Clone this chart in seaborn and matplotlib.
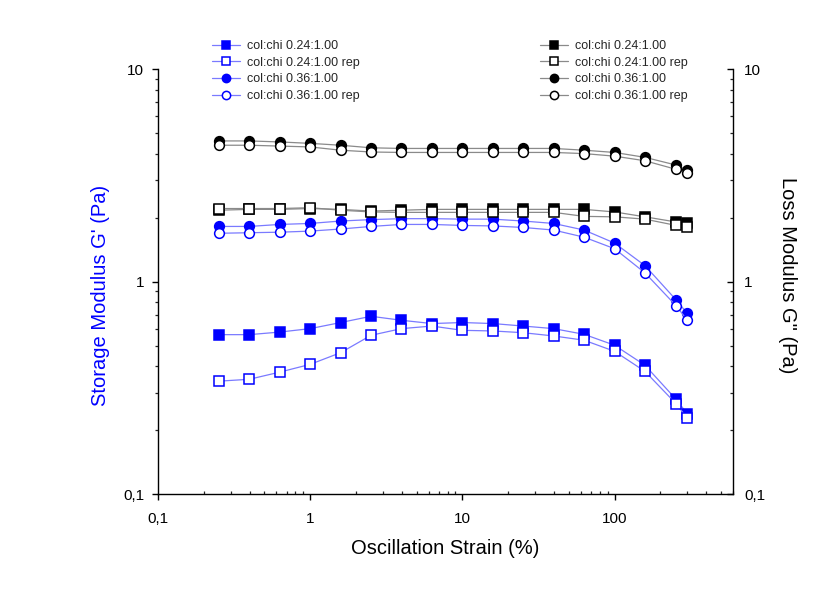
import matplotlib
matplotlib.use("Agg")
import matplotlib.pyplot as plt
import seaborn as sns
from matplotlib.ticker import FixedLocator, FixedFormatter, LogLocator, NullFormatter

# Oscillation strain (%) of the amplitude sweep
strain = [0.251, 0.398, 0.631, 1.0, 1.585, 2.512, 3.981, 6.31, 10.0, 15.85,
          25.12, 39.81, 63.1, 100.0, 158.5, 254.0, 300.0]

# Storage modulus G' (Pa)
gp_024 = [0.563, 0.563, 0.579, 0.601, 0.642, 0.687, 0.658, 0.635, 0.642, 0.635,
          0.618, 0.601, 0.565, 0.502, 0.404, 0.279, 0.239]
gp_024_rep = [0.340, 0.347, 0.375, 0.408, 0.463, 0.559, 0.601, 0.618, 0.590, 0.586,
              0.575, 0.555, 0.530, 0.470, 0.378, 0.266, 0.228]
gp_036 = [1.82, 1.82, 1.86, 1.88, 1.93, 1.96, 1.98, 1.98, 1.97, 1.97,
          1.93, 1.88, 1.75, 1.52, 1.19, 0.82, 0.71]
gp_036_rep = [1.69, 1.70, 1.71, 1.73, 1.77, 1.82, 1.86, 1.86, 1.84, 1.83,
              1.80, 1.75, 1.62, 1.43, 1.10, 0.77, 0.66]

# Loss modulus G" (Pa)
gpp_024 = [2.17, 2.19, 2.19, 2.21, 2.19, 2.15, 2.17, 2.19, 2.19, 2.19,
           2.19, 2.19, 2.19, 2.13, 2.02, 1.91, 1.88]
gpp_024_rep = [2.21, 2.21, 2.21, 2.23, 2.17, 2.13, 2.12, 2.12, 2.12, 2.12,
               2.12, 2.12, 2.03, 2.02, 1.97, 1.84, 1.81]
gpp_036 = [4.60, 4.60, 4.55, 4.48, 4.39, 4.27, 4.24, 4.24, 4.24, 4.24,
           4.24, 4.24, 4.16, 4.06, 3.85, 3.54, 3.35]
gpp_036_rep = [4.39, 4.39, 4.35, 4.31, 4.16, 4.08, 4.06, 4.06, 4.06, 4.06,
               4.06, 4.06, 4.01, 3.90, 3.71, 3.38, 3.25]

labels = ["col:chi 0.24:1.00", "col:chi 0.24:1.00 rep",
          "col:chi 0.36:1.00", "col:chi 0.36:1.00 rep"]

x_ticks = [0.1, 1, 10, 100]
x_ticklabels = ["0,1", "1", "10", "100"]
y_ticks = [0.1, 1, 10]
y_ticklabels = ["0,1", "1", "10"]

sns.set_theme(style="ticks")
plt.rcParams["font.family"] = ["Liberation Sans", "DejaVu Sans"]

BLUE = "#0000ff"
BLUE_LINE = "#7a7aff"
BLACK = "#000000"
GREY_LINE = "#8a8a8a"

fig = plt.figure(figsize=(8.35, 5.96), dpi=100)
fig.patch.set_facecolor("white")
ax = fig.add_axes([0.1892, 0.1711, 0.6886, 0.7126])
ax2 = ax.twinx()


def draw(axis, values, mcolor, lcolor, marker, filled, label):
    sns.lineplot(x=strain, y=values, ax=axis, color=lcolor, linewidth=0.9,
                 marker=marker, markersize=7.0,
                 markerfacecolor=mcolor if filled else "white",
                 markeredgecolor=mcolor, markeredgewidth=1.1,
                 legend=False)
    line = axis.lines[-1]
    line.set_label(label)
    return line


h_024 = draw(ax, gp_024, BLUE, BLUE_LINE, "s", True, labels[0])
h_024_rep = draw(ax, gp_024_rep, BLUE, BLUE_LINE, "s", False, labels[1])
h_036 = draw(ax, gp_036, BLUE, BLUE_LINE, "o", True, labels[2])
h_036_rep = draw(ax, gp_036_rep, BLUE, BLUE_LINE, "o", False, labels[3])
blue_handles = [h_024, h_024_rep, h_036, h_036_rep]

k_024 = draw(ax2, gpp_024, BLACK, GREY_LINE, "s", True, labels[0])
k_024_rep = draw(ax2, gpp_024_rep, BLACK, GREY_LINE, "s", False, labels[1])
k_036 = draw(ax2, gpp_036, BLACK, GREY_LINE, "o", True, labels[2])
k_036_rep = draw(ax2, gpp_036_rep, BLACK, GREY_LINE, "o", False, labels[3])
black_handles = [k_024, k_024_rep, k_036, k_036_rep]

for a in (ax, ax2):
    a.set_xscale("log")
    a.set_yscale("log")
    a.set_xlim(0.1, 600)
    a.set_ylim(0.1, 10)
    a.set_xlabel("")
    a.set_ylabel("")
    a.spines["top"].set_visible(False)
    for s in a.spines.values():
        s.set_linewidth(1.0)
        s.set_color("black")

ax.spines["right"].set_visible(False)
ax2.spines["left"].set_visible(False)
ax2.spines["bottom"].set_visible(False)

ax.xaxis.set_major_locator(FixedLocator(x_ticks))
ax.xaxis.set_major_formatter(FixedFormatter(x_ticklabels))
ax.xaxis.set_minor_locator(LogLocator(base=10, subs=range(2, 10), numticks=20))
ax.xaxis.set_minor_formatter(NullFormatter())

for a in (ax, ax2):
    a.yaxis.set_major_locator(FixedLocator(y_ticks))
    a.yaxis.set_major_formatter(FixedFormatter(y_ticklabels))
    a.yaxis.set_minor_locator(LogLocator(base=10, subs=range(2, 10), numticks=20))
    a.yaxis.set_minor_formatter(NullFormatter())

ax.tick_params(axis="x", which="major", direction="out", length=4, width=1.0,
               labelsize=11, pad=9, colors="black")
ax.tick_params(axis="x", which="minor", direction="in", length=2.5, width=0.9)
ax.tick_params(axis="y", which="major", direction="out", length=4, width=1.0,
               labelsize=11, pad=6, colors="black")
ax.tick_params(axis="y", which="minor", direction="out", length=2.5, width=0.9)
ax2.tick_params(axis="y", which="major", direction="in", length=4, width=1.0,
                labelsize=11, pad=8, colors="black")
ax2.tick_params(axis="y", which="minor", direction="in", length=2.5, width=0.9)

fig.text(445 / 835, 1 - 548 / 596, "Oscillation Strain (%)", fontsize=14.5,
         ha="center", va="center", color="black")
fig.text(100 / 835, 1 - 295 / 596, "Storage Modulus G' (Pa)", fontsize=14.5,
         ha="center", va="center", rotation=90, color=BLUE)
fig.text(788 / 835, 1 - 275 / 596, 'Loss Modulus G" (Pa)', fontsize=14.5,
         ha="center", va="center", rotation=270, color="black")

leg_kw = dict(loc="upper left", frameon=False, fontsize=9, handlelength=2.2,
              handletextpad=0.6, labelspacing=0.38, borderpad=0, borderaxespad=0,
              markerscale=0.85)
fig.legend(blue_handles, labels, bbox_to_anchor=(212 / 835, 1 - 40 / 596), **leg_kw)
fig.legend(black_handles, labels, bbox_to_anchor=(540 / 835, 1 - 40 / 596), **leg_kw)

fig.savefig("out.png", dpi=100, facecolor="white")
